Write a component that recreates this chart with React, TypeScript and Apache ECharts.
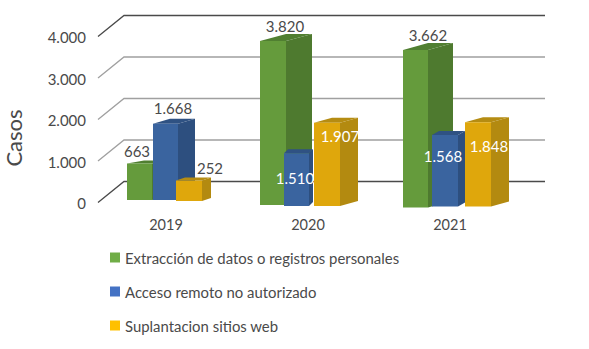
import React, { useEffect, useRef } from "react";
import * as echarts from "echarts";

const years = ["2019", "2020", "2021"];
const yTicks = [0, 1000, 2000, 3000, 4000];
const extraccion = [663, 3820, 3662];
const acceso = [1668, 1510, 1568];
const suplantacion = [252, 1907, 1848];
const names = [
  "Extracción de datos o registros personales",
  "Acceso remoto no autorizado",
  "Suplantacion sitios web",
];

const FONT = 'Lato, sans-serif';
const TEXT = "#4A4A4A";

// Picture-only faux-3D perspective per bar: [left from category centre, front width, depth dx, depth dy, base below axis zero, top lift]
const barLayout = [
  [[-39, 25, 17, 3, -3, 12], [-13, 25, 17, 5, -3, 10], [10, 26, 9, 3, -2, 12]],
  [[-48, 26, 26, 7, 2, 3.5], [-24, 25, 4, 4, 3, -13], [6, 26, 18, 5, 3, 1]],
  [[-47, 25, 25, 7, 4.5, 1], [-18, 26, 7, 4, 3.5, 3], [15, 26, 18, 5, 3.5, 4]],
];
// Label centre relative to the bar's front top-left corner
const labelLayout = [
  [[10, -12], [20, -16], [34, -13]],
  [[25, -15], [11, 25], [26, 13]],
  [[25, -15], [11, 21], [24, 24]],
];
const faces = [
  { front: "#659B3C", side: "#4E7A2F", top: "#507F31" },
  { front: "#3A649F", side: "#2D4F7F", top: "#2F5283" },
  { front: "#DFA70C", side: "#B38A10", top: "#B58C12" },
];
const legendColors = ["#70AD47", "#4472C4", "#FFC000"];

const fmt = (v: number) => String(v).replace(/\B(?=(\d{3})+$)/g, ".");

function barSeries(name: string, values: number[], s: number) {
  return {
    type: "custom",
    name,
    silent: true,
    z: 3 + s,
    itemStyle: { color: legendColors[s] },
    encode: { x: 0, y: 1 },
    data: values.map((v, i) => [i, v]),
    renderItem: (params: any, api: any) => {
      const i = api.value(0);
      const v = api.value(1);
      const [cx, cy] = api.coord([i, v]);
      const zero = api.coord([i, 0])[1];
      const [off, w, dx, dy, base, lift] = barLayout[i][s];
      const l = cx + off;
      const r = l + w;
      const t = cy - lift;
      const b = zero + base;
      const f = faces[s];
      const [lx, ly] = labelLayout[i][s];
      const white = ly > 0;
      return {
        type: "group",
        children: [
          {
            type: "polygon",
            shape: { points: [[r, b], [r + dx, b - dy], [r + dx, t - dy], [r, t]] },
            style: { fill: f.side },
          },
          {
            type: "polygon",
            shape: { points: [[l, t], [r, t], [r + dx, t - dy], [l + dx, t - dy]] },
            style: { fill: f.top },
          },
          {
            type: "polygon",
            shape: { points: [[l, t], [r, t], [r, b], [l, b]] },
            style: { fill: f.front },
          },
          {
            type: "text",
            x: l + lx,
            y: t + ly,
            z2: 50,
            style: {
              text: fmt(v),
              fill: white ? "#FFFFFF" : TEXT,
              font: `15px ${FONT}`,
              textAlign: "center",
              textVerticalAlign: "middle",
            },
          },
        ],
      };
    },
  };
}

const gridSeries = {
  type: "custom",
  silent: true,
  z: 1,
  encode: { y: 0 },
  data: yTicks.map((v) => [v]),
  renderItem: (params: any, api: any) => {
    const v = api.value(0);
    const y = api.coord([0, v])[1];
    const strong = v === 0 || v === 4000;
    return {
      type: "polyline",
      shape: { points: [[98, y - 0.5], [124, y - 21.5], [545, y - 21.5]] },
      style: { fill: "none", stroke: strong ? "#4A4A4A" : "#A0A0A0", lineWidth: 1.3 },
    };
  },
};

export default function App() {
  const ref = useRef<HTMLDivElement>(null);
  useEffect(() => {
    const chart = echarts.init(ref.current!, undefined, { renderer: "svg" });
    chart.setOption({
      animation: false,
      backgroundColor: "#FFFFFF",
      grid: { left: 95, right: 68, top: 37, height: 166, outerBoundsMode: "none" },
      legend: {
        orient: "vertical",
        left: 110,
        top: 250,
        padding: 0,
        itemWidth: 10,
        itemHeight: 10,
        itemGap: 19,
        selectedMode: false,
        textStyle: { fontFamily: FONT, fontSize: 14.9, color: TEXT },
        data: names.map((name, i) => ({
          name,
          icon: "rect",
          itemStyle: { color: legendColors[i] },
        })),
      },
      xAxis: {
        type: "category",
        data: years,
        axisLine: { show: false },
        axisTick: { show: false },
        axisLabel: { fontFamily: FONT, fontSize: 14.5, color: TEXT, margin: 14 },
      },
      yAxis: {
        type: "value",
        min: 0,
        max: 4000,
        interval: 1000,
        name: "Casos",
        nameLocation: "middle",
        nameGap: 71,
        nameRotate: 90,
        nameTextStyle: { fontFamily: FONT, fontSize: 22, color: TEXT, padding: [0, 36, 0, 0] },
        axisLine: { show: false },
        axisTick: { show: false },
        splitLine: { show: false },
        axisLabel: {
          fontFamily: FONT,
          fontSize: 15,
          color: TEXT,
          margin: 9,
          formatter: (v: number) => fmt(v),
        },
      },
      series: [
        gridSeries,
        barSeries(names[0], extraccion, 0),
        barSeries(names[1], acceso, 1),
        barSeries(names[2], suplantacion, 2),
      ],
    });
    return () => chart.dispose();
  }, []);
  return (
    <div
      ref={ref}
      style={{ position: "absolute", left: 0, top: 0, width: 589, height: 349 }}
    />
  );
}
